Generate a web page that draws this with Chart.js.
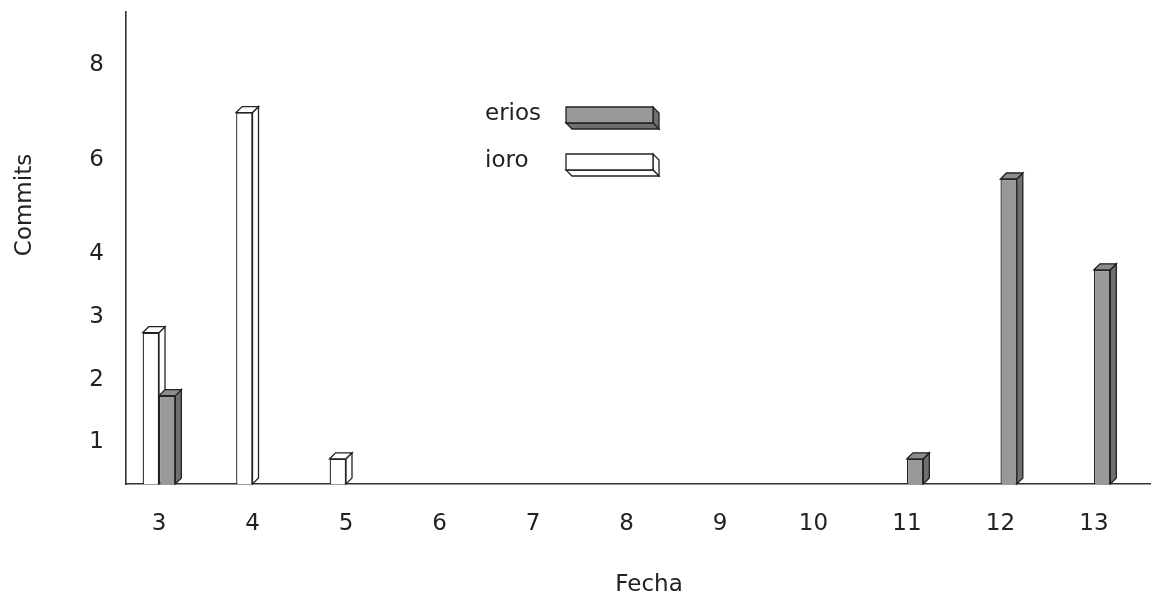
<!DOCTYPE html>
<html lang="es">

<head>
    <meta charset="UTF-8">
    <script src="https://cdn.jsdelivr.net/npm/chart.js@4.4.0/dist/chart.umd.min.js"></script>
    <title>Commits por fecha</title>
    <style>
        body { margin: 0; background: #fff; }
        #wrap { width: 1151px; height: 599px; }
    </style>
</head>

<body>
    <div id="wrap"><canvas id="myChart"></canvas></div>

    <script>
        // values
        const fechas = [3, 4, 5, 6, 7, 8, 9, 10, 11, 12, 13];
        const erios = [1.75, null, null, null, null, null, null, null, 0.6, 5.6, 3.75];
        const ioro = [2.75, 7, 0.6, null, null, null, null, null, null, null, null];
        const yTicks = [1, 2, 3, 4, 6, 8];

        const FONT = "'DejaVu Sans', sans-serif";
        const INK = '#222';
        const DEPTH = 6;

        // the y axis of the original is not linear: spacing changes between ticks
        const yBreaks = [[0, 0], [1, 0.089], [2, 0.22], [3, 0.354], [4, 0.487], [6, 0.686], [8, 0.888], [9.12, 1]];

        function warp(v) {
            for (let i = 1; i < yBreaks.length; i++) {
                const [v0, p0] = yBreaks[i - 1], [v1, p1] = yBreaks[i];
                if (v <= v1 || i === yBreaks.length - 1) return p0 + (v - v0) * (p1 - p0) / (v1 - v0);
            }
        }
        function unwarp(p) {
            for (let i = 1; i < yBreaks.length; i++) {
                const [v0, p0] = yBreaks[i - 1], [v1, p1] = yBreaks[i];
                if (p <= p1 || i === yBreaks.length - 1) return v0 + (p - p0) * (v1 - v0) / (p1 - p0);
            }
        }

        class WarpedScale extends Chart.LinearScale {
            getPixelForValue(value) {
                if (value === null || value === undefined || isNaN(value)) return NaN;
                return this.getPixelForDecimal(warp(value));
            }
            getValueForPixel(pixel) {
                return unwarp(this.getDecimalForPixel(pixel));
            }
        }
        WarpedScale.id = 'warped';
        WarpedScale.defaults = Chart.LinearScale.defaults;
        Chart.register(WarpedScale);

        function face(ctx, pts, fill) {
            ctx.beginPath();
            ctx.moveTo(pts[0][0], pts[0][1]);
            for (let i = 1; i < pts.length; i++) ctx.lineTo(pts[i][0], pts[i][1]);
            ctx.closePath();
            ctx.fillStyle = fill;
            ctx.fill();
            ctx.stroke();
        }

        // side and top faces of every bar, under the front faces
        const bars3d = {
            id: 'bars3d',
            beforeDatasetsDraw(chart) {
                const ctx = chart.ctx;
                ctx.save();
                ctx.strokeStyle = INK;
                ctx.lineWidth = 1.3;
                chart.data.datasets.forEach((ds, di) => {
                    chart.getDatasetMeta(di).data.forEach((el, i) => {
                        if (ds.data[i] === null) return;
                        const { x, y, base, width } = el.getProps(['x', 'y', 'base', 'width'], true);
                        const l = x - width / 2, r = x + width / 2, d = DEPTH;
                        face(ctx, [[r, y], [r + d, y - d], [r + d, base - d], [r, base]], ds.sideColor);
                        face(ctx, [[l, y], [l + d, y - d], [r + d, y - d], [r, y]], ds.topColor);
                    });
                });
                ctx.restore();
            }
        };

        // legend drawn inside the plot, with the same 3D boxes
        const legend3d = {
            id: 'legend3d',
            afterDraw(chart) {
                const ctx = chart.ctx;
                ctx.save();
                ctx.font = '23px ' + FONT;
                ctx.textBaseline = 'middle';
                ctx.lineWidth = 1.3;
                ctx.strokeStyle = INK;
                const order = chart.data.datasets.slice().reverse();
                order.forEach((ds, k) => {
                    const cy = 114 + k * 47;
                    ctx.fillStyle = INK;
                    ctx.textAlign = 'left';
                    ctx.fillText(ds.label, 485, cy);
                    const l = 566, r = 653, t = cy - 7, b = cy + 9, d = DEPTH;
                    face(ctx, [[r, t], [r + d, t + d], [r + d, b + d], [r, b]], ds.sideColor);
                    face(ctx, [[l, b], [r, b], [r + d, b + d], [l + d, b + d]], ds.sideColor);
                    face(ctx, [[l, t], [r, t], [r, b], [l, b]], ds.backgroundColor);
                });

                // axis titles
                ctx.fillStyle = INK;
                ctx.textAlign = 'center';
                ctx.fillText('Fecha', 649, 585);
                ctx.translate(25, 205);
                ctx.rotate(-Math.PI / 2);
                ctx.fillText('Commits', 0, 0);
                ctx.restore();
            }
        };

        function noPad(s) {
            s.paddingTop = 0;
            s.paddingBottom = 0;
            s.paddingLeft = 0;
            s.paddingRight = 0;
        }

        var ctx = document.getElementById('myChart').getContext('2d');
        var myChart = new Chart(ctx, {
            type: 'bar',
            data: {
                labels: fechas,
                datasets: [{
                    label: 'ioro',
                    data: ioro,
                    backgroundColor: '#ffffff',
                    sideColor: '#ffffff',
                    topColor: '#ffffff'
                }, {
                    label: 'erios',
                    data: erios,
                    backgroundColor: '#999999',
                    sideColor: '#6f6f6f',
                    topColor: '#8c8c8c'
                }]
            },
            options: {
                responsive: true,
                maintainAspectRatio: false,
                animation: false,
                events: [],
                layout: { padding: { top: 12, left: 0, right: 0, bottom: 0 } },
                datasets: {
                    bar: {
                        borderColor: INK,
                        borderWidth: 1.3,
                        categoryPercentage: 0.35,
                        barPercentage: 1
                    }
                },
                plugins: {
                    legend: { display: false },
                    tooltip: { enabled: false }
                },
                scales: {
                    x: {
                        type: 'linear',
                        min: 2.647,
                        max: 13.61,
                        offset: false,
                        grid: { display: false, offset: false, drawTicks: false },
                        border: { display: true, color: '#333', width: 1.6 },
                        afterBuildTicks: (s) => { s.ticks = fechas.map(v => ({ value: v })); },
                        afterFit: (s) => { s.height = 115; noPad(s); },
                        ticks: {
                            autoSkip: false,
                            maxRotation: 0,
                            padding: 26,
                            color: INK,
                            font: { family: FONT, size: 23 }
                        }
                    },
                    y: {
                        type: 'warped',
                        min: 0,
                        max: 9.12,
                        grid: { display: false, drawTicks: false },
                        border: { display: true, color: '#333', width: 1.6 },
                        afterBuildTicks: (s) => { s.ticks = yTicks.map(v => ({ value: v })); },
                        afterFit: (s) => { s.width = 126; noPad(s); },
                        ticks: {
                            padding: 22,
                            color: INK,
                            font: { family: FONT, size: 23 },
                            callback: (v) => v
                        }
                    }
                }
            },
            plugins: [bars3d, legend3d]
        });
    </script>

</body>

</html>
